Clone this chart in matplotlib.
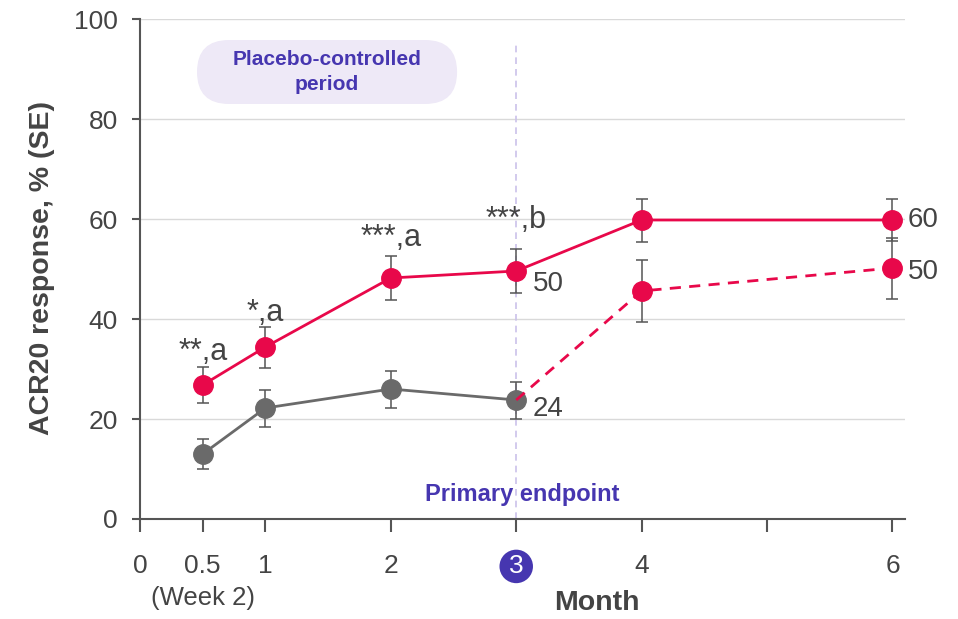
import matplotlib
matplotlib.use("Agg")
import matplotlib.pyplot as plt
from matplotlib.patches import FancyBboxPatch

# data
months_active = [0.5, 1, 2, 3, 4, 6]
active = [26.8, 34.4, 48.2, 49.6, 59.8, 59.8]
active_se = [3.6, 4.1, 4.4, 4.4, 4.3, 4.2]

months_pbo = [0.5, 1, 2, 3]
placebo = [13.0, 22.2, 26.0, 23.8]
placebo_se = [3.0, 3.7, 3.7, 3.7]

months_switch = [3, 4, 6]
switch = [23.8, 45.6, 50.2]
switch_se = [0, 6.2, 6.1]

sig_labels = ["**,a", "*,a", "***,a", "***,b"]
xticks = [0, 0.5, 1, 2, 3, 4, 5, 6]
xticklabels = ["0", "0.5", "1", "2", "3", "4", "", "6"]
yticks = [0, 20, 40, 60, 80, 100]

RED = "#E8084A"
GREY = "#6A6A6A"
ERR = "#555555"
PURPLE = "#4636B0"
TXT = "#444444"

plt.rcParams["font.family"] = ["Liberation Sans", "DejaVu Sans"]

fig = plt.figure(figsize=(9.58, 6.19), dpi=100)
ax = fig.add_axes([140 / 958, 1 - 519 / 619, 765 / 958, 500 / 619])

ax.set_xlim(0, 6.1)
ax.set_ylim(0, 100)
ax.set_yticks(yticks)
ax.yaxis.grid(True, color="#D9D9D9", lw=1)
ax.set_axisbelow(True)
for s in ["top", "right"]:
    ax.spines[s].set_visible(False)
for s in ["left", "bottom"]:
    ax.spines[s].set_color("#555555")
    ax.spines[s].set_linewidth(1.5)

# primary endpoint line
ax.plot([3, 3], [0, 95.5], ls=(0, (4, 3)), color="#CBC1EA", lw=1.2, zorder=1)
ax.text(3.05, 5, "Primary endpoint", ha="center", va="center", fontsize=17,
        fontweight="bold", color=PURPLE)

# placebo-controlled period box
box = FancyBboxPatch((0.0745, 0.83), 0.34, 0.128, transform=ax.transAxes,
                     boxstyle="round,pad=0,rounding_size=0.0418",
                     mutation_aspect=765 / 500, fc="#EEE9F7", ec="none", zorder=2)
ax.add_patch(box)
ax.text(0.2445, 0.894, "Placebo-controlled\nperiod", transform=ax.transAxes,
        ha="center", va="center", fontsize=15, fontweight="bold", color=PURPLE,
        linespacing=1.4, zorder=3)

eb = dict(fmt="none", ecolor=ERR, elinewidth=1.1, capsize=4.5, capthick=1.1, zorder=3)

# placebo
ax.errorbar(months_pbo, placebo, yerr=placebo_se, **eb)
ax.plot(months_pbo, placebo, "-o", color=GREY, lw=2, ms=14, zorder=4)

# placebo -> active switch
ax.errorbar(months_switch[1:], switch[1:], yerr=switch_se[1:], **eb)
ax.plot(months_switch, switch, color=RED, lw=2, ls=(0, (4, 3)), zorder=4)
ax.plot(months_switch[1:], switch[1:], "o", color=RED, ms=14, zorder=5)

# active
ax.errorbar(months_active, active, yerr=active_se, **eb)
ax.plot(months_active, active, "-o", color=RED, lw=2, ms=14, zorder=5)

# significance labels
sig_offsets = [11, 10, 13, 21]
for x, v, se, lab, off in zip(months_active, active, active_se, sig_labels, sig_offsets):
    ax.annotate(lab, (x, v + se), xytext=(0, off), textcoords="offset points",
                ha="center", va="center", fontsize=22, color=TXT)

# end values
val_kw = dict(textcoords="offset points", ha="left", va="center", fontsize=20, color=TXT)
ax.annotate(f"{active[3]:.0f}", (months_active[3], active[3]), xytext=(12, -9), **val_kw)
ax.annotate(f"{placebo[3]:.0f}", (months_pbo[3], placebo[3]), xytext=(12, -6.5), **val_kw)
ax.annotate(f"{active[5]:.0f}", (months_active[5], active[5]), xytext=(11, 0), **val_kw)
ax.annotate(f"{switch[2]:.0f}", (months_switch[2], switch[2]), xytext=(11, -3), **val_kw)

# axes ticks
ax.set_xticks(xticks)
ax.set_xticklabels(xticklabels)
ax.tick_params(axis="x", length=9, width=1.5, color="#555555", pad=16.5,
               labelsize=19, labelcolor=TXT)
ax.tick_params(axis="y", length=6, width=1.5, color="#555555", pad=10,
               labelsize=19, labelcolor=TXT)
ax.xaxis.get_major_ticks()[1].tick1line.set_color("#1A1A80")
lab3 = ax.get_xticklabels()[4]
lab3.set_color("white")
lab3.set_bbox(dict(boxstyle="circle,pad=0.18", fc=PURPLE, ec="none"))

ax.text(0.5, -0.158, "(Week 2)", transform=ax.get_xaxis_transform(),
        ha="center", va="center", fontsize=18.5, color=TXT)

ax.set_xlabel("Month", fontsize=20.5, fontweight="bold", color=TXT)
ax.xaxis.set_label_coords(0.597, -0.168)
ax.xaxis.label.set_va("center")
ax.set_ylabel("ACR20 response, % (SE)", fontsize=20.5, fontweight="bold", color=TXT)
ax.yaxis.set_label_coords(-0.128, 0.502)
ax.yaxis.label.set_va("center")

fig.savefig("out.png", dpi=100)
